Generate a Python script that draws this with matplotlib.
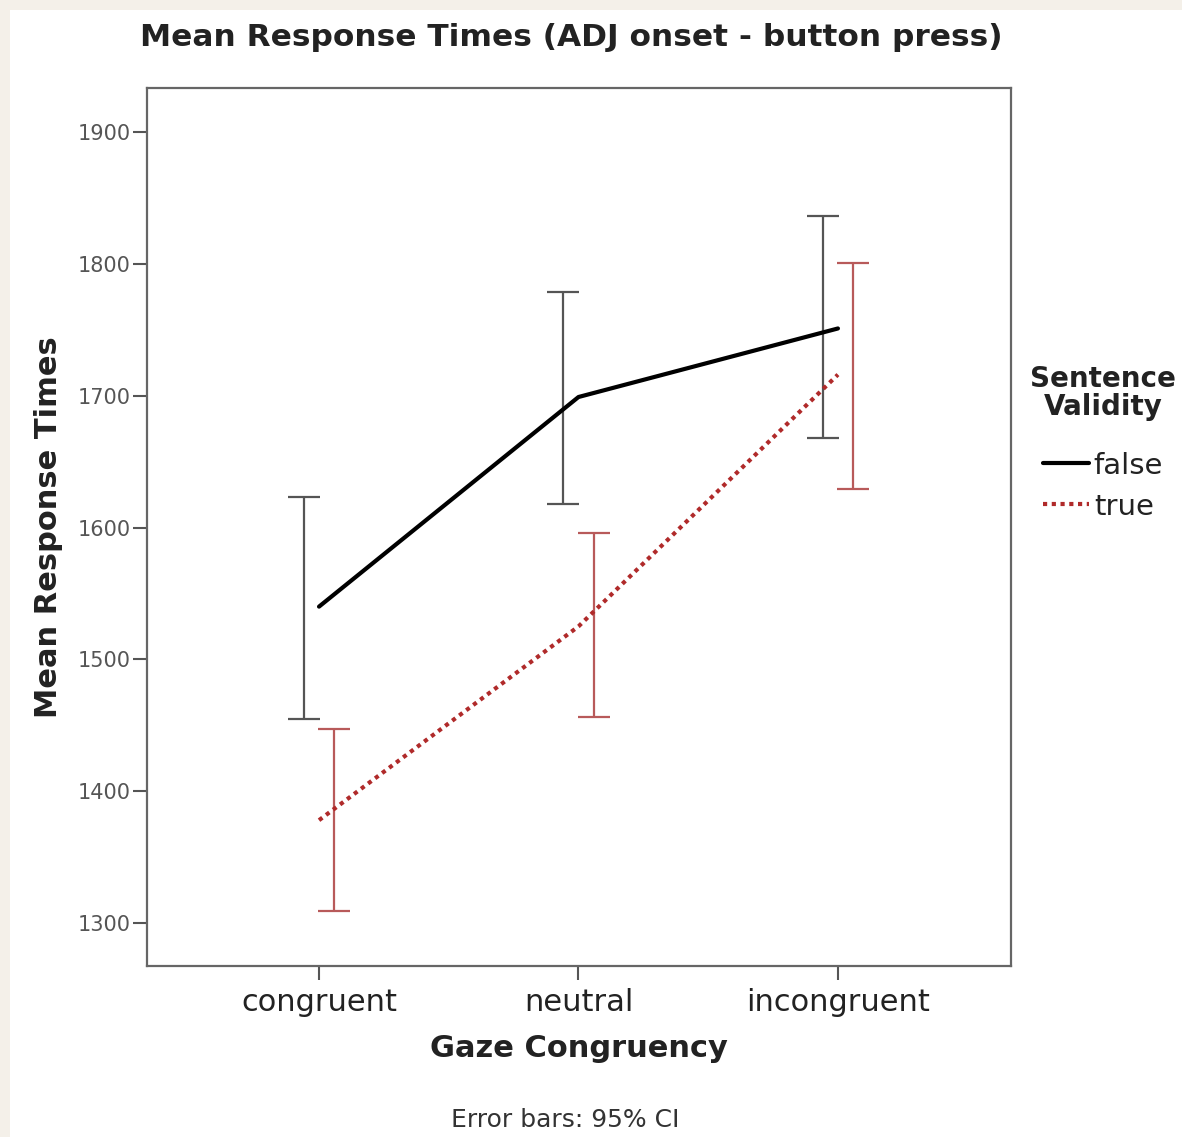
import numpy as np
import matplotlib
matplotlib.use("Agg")
import matplotlib.pyplot as plt
from matplotlib.patches import Rectangle

categories = ["congruent", "neutral", "incongruent"]
false_mean = [1540, 1699, 1751]
false_lo = [1455, 1618, 1668]
false_hi = [1623, 1779, 1836]
true_mean = [1378, 1525, 1716]
true_lo = [1309, 1456, 1629]
true_hi = [1447, 1596, 1801]

plt.rcParams["font.family"] = ["DejaVu Sans"]

fig = plt.figure(figsize=(11.82, 11.37), dpi=100)
fig.patch.set_facecolor("#f4f0e9")
fig.patches.append(Rectangle((10 / 1182, 0), 1, 1 - 10 / 1137, transform=fig.transFigure,
                             facecolor="white", edgecolor="none", zorder=-1))

ax = fig.add_axes([147 / 1182, 1 - 966 / 1137, 864 / 1182, 878 / 1137])
x = np.arange(len(categories))
off = 0.058

fm = np.array(false_mean)
tm = np.array(true_mean)
ax.errorbar(x - off, fm, yerr=[fm - np.array(false_lo), np.array(false_hi) - fm],
            fmt="none", ecolor="#555555", elinewidth=1.6, capsize=11.5, capthick=1.6)
ax.errorbar(x + off, tm, yerr=[tm - np.array(true_lo), np.array(true_hi) - tm],
            fmt="none", ecolor="#b85a5a", elinewidth=1.6, capsize=11.5, capthick=1.6)
ax.plot(x, fm, color="black", lw=3, label="false", solid_capstyle="round")
ax.plot(x, tm, color="#b02a2a", lw=3, ls=(0, (1.0, 1.1)), label="true")

ax.set_xlim(-0.663, 2.667)
ax.set_ylim(1267.4, 1933.4)
ax.set_yticks([1300, 1400, 1500, 1600, 1700, 1800, 1900])
ax.set_xticks(x)
ax.set_xticklabels(categories, fontsize=22, color="#222222")
ax.tick_params(axis="y", labelsize=15, labelcolor="#555555", color="#555555",
               length=10, width=1.5, pad=2)
ax.tick_params(axis="x", color="#555555", length=10, width=1.5, pad=6)
for s in ax.spines.values():
    s.set_color("#666666")
    s.set_linewidth(1.6)

ax.set_ylabel("Mean Response Times", fontsize=22, fontweight="bold", color="#222222", labelpad=10)
ax.set_xlabel("Gaze Congruency", fontsize=22, fontweight="bold", color="#222222", labelpad=12)
fig.text(571 / 1182, 1 - 38 / 1137, "Mean Response Times (ADJ onset - button press)",
         ha="center", va="center", fontsize=22.5, fontweight="bold", color="#222222")
fig.text(565 / 1182, 1 - 1120 / 1137, "Error bars: 95% CI", ha="center", va="center",
         fontsize=18, color="#333333")

leg = ax.legend(loc="upper left", bbox_to_anchor=(1.022, 0.6845), frameon=False,
                title="Sentence\nValidity", fontsize=21, handlelength=1.6,
                handletextpad=0.15, labelspacing=0.45, borderpad=0, borderaxespad=0)
leg.get_title().set_fontweight("bold")
leg.get_title().set_fontsize(20)
leg.get_title().set_color("#222222")
leg.get_title().set_linespacing(1.0)
leg.get_title().set_multialignment("center")
leg._legend_box.sep = 22
for t in leg.get_texts():
    t.set_color("#222222")

fig.savefig("out.png", dpi=100)
